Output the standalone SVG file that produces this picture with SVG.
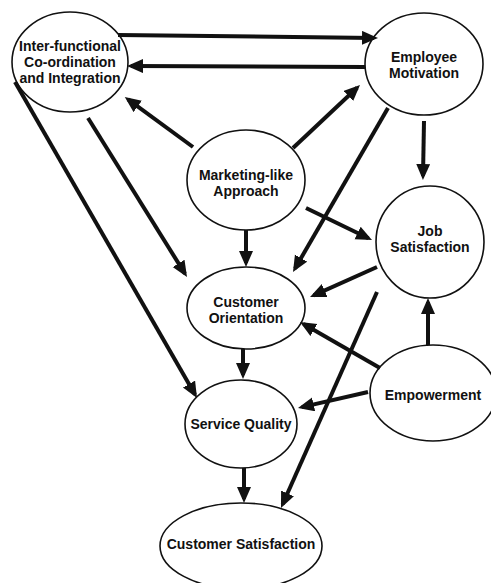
<svg xmlns="http://www.w3.org/2000/svg" width="491" height="583" viewBox="0 0 491 583">
<defs>
<marker id="ah" markerUnits="userSpaceOnUse" markerWidth="18" markerHeight="16" refX="12" refY="7" orient="auto">
<path d="M0,0 L16,7 L0,14 Z" fill="#111"/>
</marker>
<style>
.n ellipse{fill:#fff;stroke:#111;stroke-width:1.6}
.n text{font-family:"Liberation Sans",Arial,sans-serif;font-weight:bold;font-size:14px;fill:#111;text-anchor:middle}
#edges line{stroke:#111;stroke-width:4;marker-end:url(#ah)}
</style>
</defs>
<rect width="491" height="583" fill="#fff"/>
<g id="n-inter" class="n">
<ellipse cx="70" cy="62" rx="58" ry="50"/>
<text x="70" y="51">Inter-functional</text>
<text x="70" y="67">Co-ordination</text>
<text x="70" y="83">and Integration</text>
</g>
<g id="n-employee" class="n">
<ellipse cx="424" cy="64" rx="59" ry="51"/>
<text x="424" y="62">Employee</text>
<text x="424" y="78">Motivation</text>
</g>
<g id="n-marketing" class="n">
<ellipse cx="246" cy="180" rx="59" ry="50"/>
<text x="246" y="180">Marketing-like</text>
<text x="246" y="196">Approach</text>
</g>
<g id="n-orientation" class="n">
<ellipse cx="246" cy="308" rx="59" ry="41"/>
<text x="246" y="307">Customer</text>
<text x="246" y="323">Orientation</text>
</g>
<g id="n-job" class="n">
<ellipse cx="430" cy="242" rx="54" ry="56"/>
<text x="430" y="236">Job</text>
<text x="430" y="252">Satisfaction</text>
</g>
<g id="n-empowerment" class="n">
<ellipse cx="433" cy="393" rx="63" ry="48"/>
<text x="433" y="400">Empowerment</text>
</g>
<g id="n-service" class="n">
<ellipse cx="241" cy="424" rx="56" ry="44"/>
<text x="241" y="429">Service Quality</text>
</g>
<g id="n-custsat" class="n">
<ellipse cx="241" cy="546" rx="81" ry="43"/>
<text x="241" y="549">Customer Satisfaction</text>
</g>
<g id="edges">
<line x1="118" y1="35" x2="374" y2="38"/>
<line x1="365" y1="67" x2="131" y2="66"/>
<line x1="193" y1="147" x2="128" y2="99.4"/>
<line x1="293" y1="148" x2="357.1" y2="87.7"/>
<line x1="388" y1="108" x2="295" y2="268.5"/>
<line x1="424" y1="121" x2="423" y2="176"/>
<line x1="306" y1="208" x2="368.4" y2="238.3"/>
<line x1="377" y1="267" x2="313.7" y2="295.4"/>
<line x1="428" y1="345" x2="428" y2="302"/>
<line x1="380" y1="368" x2="303.5" y2="324"/>
<line x1="368" y1="392" x2="301.9" y2="407.1"/>
<line x1="377" y1="292" x2="282.6" y2="504.3"/>
<line x1="246" y1="230" x2="246" y2="263"/>
<line x1="243" y1="349" x2="243" y2="375"/>
<line x1="244" y1="468" x2="244" y2="499"/>
<line x1="88" y1="118" x2="184.9" y2="273.6"/>
<line x1="15" y1="82" x2="195" y2="394.5"/>
</g>
</svg>
